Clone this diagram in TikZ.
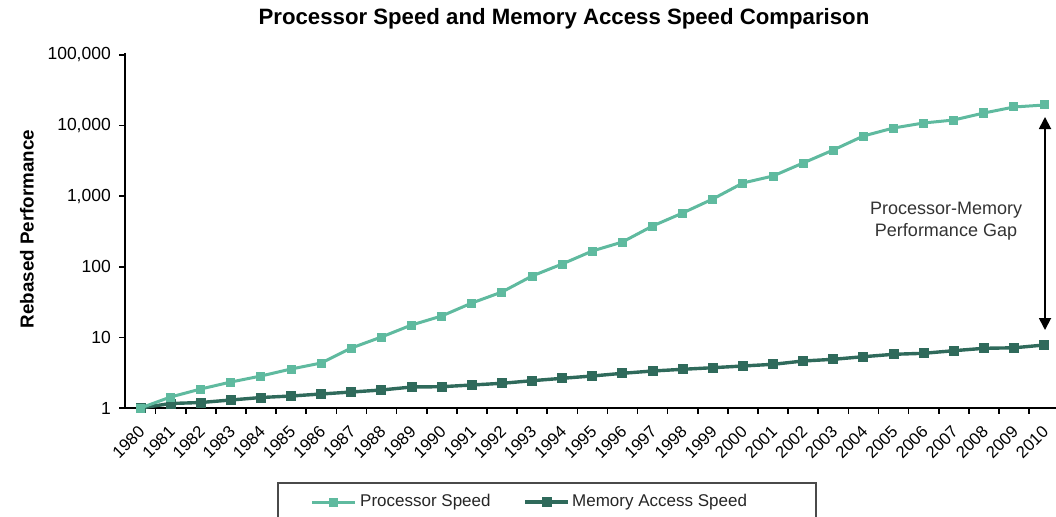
\documentclass[tikz,border=0pt]{standalone}
\usepackage{fontspec}
\setmainfont{Liberation Sans}
\usetikzlibrary{arrows.meta}

\definecolor{procteal}{HTML}{5FBA9F}
\definecolor{memgreen}{HTML}{2F6A5B}
\definecolor{legendframe}{HTML}{4A4A4A}
\definecolor{notegray}{HTML}{333333}

\begin{document}
\begin{tikzpicture}[x=1pt,y=-1pt,
  axisline/.style={line width=2.6pt,black},
  tickmark/.style={line width=1.6pt,black},
  ticklabel/.style={font=\fontsize{17.5}{20}\selectfont,inner sep=0pt},
  yearlabel/.style={font=\fontsize{16.8}{20}\selectfont,inner sep=0pt,rotate=45},
  procline/.style={line width=3pt,procteal,line join=round},
  memline/.style={line width=3.4pt,memgreen,line join=round},
  procmark/.style={rectangle,fill=procteal,minimum size=9pt,inner sep=0pt},
  memmark/.style={rectangle,fill=memgreen,minimum size=10pt,inner sep=0pt},
  legendbox/.style={line width=2.4pt,legendframe},
  legendtext/.style={font=\fontsize{17}{20}\selectfont,inner sep=0pt,anchor=west,text=black!85},
  gaparrow/.style={line width=1.8pt,black,
    {Triangle[width=12pt,length=12pt]}-{Triangle[width=12pt,length=12pt]}},
  notetext/.style={font=\fontsize{18}{22}\selectfont,align=center,text=notegray,inner sep=0pt}
]
\useasboundingbox (0,0) rectangle (1056,516);

% title and axis caption
\node[font=\bfseries\fontsize{22.2}{25}\selectfont] (title) at (564,19)
  {Processor Speed and Memory Access Speed Comparison};
\node[font=\bfseries\fontsize{18.8}{20}\selectfont,rotate=90] (ycap) at (27,229)
  {Rebased Performance};

% axes
\coordinate (origin) at (125,408);
\coordinate (ytop) at (125,53);
\coordinate (xend) at (1056,408);
\draw[axisline] (ytop) -- (origin |- 0,409.3);
\draw[axisline] (123.7,408) -- (xend);

% logarithmic y ticks and labels
\foreach \y/\lab [count=\k] in {408/1, 337.4/10, 266.8/100, 196.2/{1,000}, 125.6/{10,000}, 55/{100,000}} {
  \draw[tickmark] (119,\y) -- (125,\y);
  \node[ticklabel,anchor=east] (ylab\k) at (111,\y) {\lab};
}

% year ticks and labels
\foreach \i in {1,...,30}
  \draw[tickmark] (125.5+30.12*\i,408) -- (125.5+30.12*\i,414);
\foreach \i in {0,...,30} {
  \pgfmathtruncatemacro\yr{1980+\i}
  \node[yearlabel] (yr\i) at (128.5+30.12*\i,442) {\yr};
}

% memory access speed series
\draw[memline] (140.5,408)
  \foreach \y [count=\i] in {403.5,402.5,400,397.5,396,394,392,390,387,386.7,385,383.3,380.7,378.3,376,373.3,371,369.3,367.7,366,364.3,361,359.3,356.7,354.3,353.3,350.7,348.3,347.8,345}
  { -- (140.5+30.12*\i,\y) };
\foreach \y [count=\i from 0] in {408,403.5,402.5,400,397.5,396,394,392,390,387,386.7,385,383.3,380.7,378.3,376,373.3,371,369.3,367.7,366,364.3,361,359.3,356.7,354.3,353.3,350.7,348.3,347.8,345}
  \node[memmark] (mem\i) at (140.5+30.12*\i,\y) {};

% processor speed series
\draw[procline] (140.5,408)
  \foreach \y [count=\i] in {397,389,382,376,369,363,348,337,325,316,303,292,276,264,251,242,226,213,199,183,176,163,150,136,128,123,120,113,107,105}
  { -- (140.5+30.12*\i,\y) };
\foreach \y [count=\i from 0] in {408,397,389,382,376,369,363,348,337,325,316,303,292,276,264,251,242,226,213,199,183,176,163,150,136,128,123,120,113,107,105}
  \node[procmark] (proc\i) at (140.5+30.12*\i,\y) {};

% performance gap annotation
\coordinate (gapTop) at (1045,117);
\coordinate (gapBot) at (1045,330);
\draw[gaparrow] (gapTop) -- (gapBot);
\node[notetext] (gapnote) at (946,221) {Processor-Memory\\Performance Gap};

% legend
\draw[legendbox] (278,483) rectangle (816,530);
\coordinate (lpA) at (312,502);
\coordinate (lpB) at (355,502);
\draw[procline] (lpA) -- (lpB);
\node[procmark] (lpmark) at (333.5,502) {};
\node[legendtext] (lptext) at (360,502) {Processor Speed};
\coordinate (lmA) at (525,502);
\coordinate (lmB) at (568,502);
\draw[memline] (lmA) -- (lmB);
\node[memmark] (lmmark) at (546.5,502) {};
\node[legendtext] (lmtext) at (572,502) {Memory Access Speed};
\end{tikzpicture}
\end{document}
